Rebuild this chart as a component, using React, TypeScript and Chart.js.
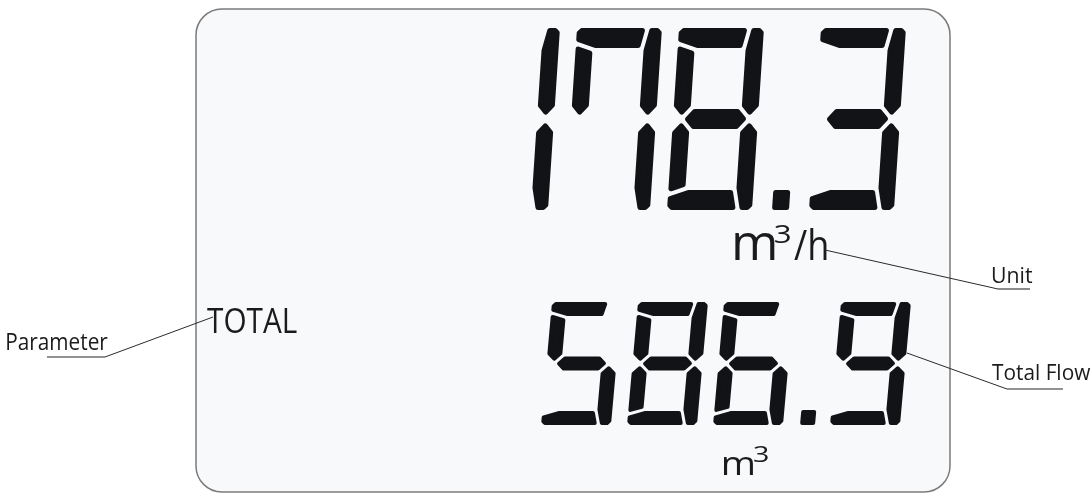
import React, { useEffect, useRef } from "react";
import { Chart, registerables } from "chart.js";
Chart.register(...registerables);

// ---- content ----
const readings = ["178.3", "586.9"];
const unitMain = ["m", "m"];
const unitPower = ["3", "3"];
const unitSuffix = ["/h", ""];
const parameterLabel = "TOTAL";
const calloutLabels = ["Unit", "Parameter", "Total Flow"];

// LCD segment map (this display draws 7 with the f segment)
const SEGMENTS: Record<string, string> = {
  "0": "abcdef", "1": "bc", "2": "abdeg", "3": "abcdg", "4": "bcfg",
  "5": "acdfg", "6": "acdefg", "7": "abcf", "8": "abcdefg", "9": "abcdfg",
};

// ---- layout / style ----
const VIEW_W = 1092;
const VIEW_H = 493;
const rowStyle = [
  { x0: 463, top: 28, H: 182, W: 85, Th: 20, Tv: 17, pitch: 102, dotExtra: 40, dotOffset: 3, dotW: 17, dotH: 20, slant: 12, gap: 4, r: 2.5, ch: 5 },
  { x0: 541, top: 302, H: 123, W: 70, Th: 14, Tv: 15, pitch: 86, dotExtra: 31, dotOffset: 1, dotW: 15, dotH: 15, slant: 11, gap: 3, r: 2, ch: 4 },
];
const CUT_A = 0.7;  // left corner cut (owned by horizontal segment)
const CUT_B = 0.75; // right corner cut (owned by vertical segment)
const unitStyle = [
  { m: [735, 775, 260, 50], p: [775, 790, 243, 25], s: [794, 827, 260, 42] },
  { m: [723, 753, 475, 33], p: [753, 768, 462, 21], s: [0, 0, 0, 0] },
];
const box = { x: 196, y: 9, w: 754, h: 483, r: 26 };
const paramText = { left: 207, right: 297, base: 333, size: 35 };
const calloutText = [
  { left: 992, right: 1032, base: 283, size: 21 },
  { left: 7, right: 108, base: 350, size: 24 },
  { left: 992, right: 1091, base: 380, size: 21 },
];
const calloutLines = [
  { from: [825, 250], to: [998, 289], end: 1030 },
  { from: [213, 317], to: [105, 357], end: 47 },
  { from: [907, 353], to: [1007, 389], end: 1063 },
];
const FONT = "'Open Sans', 'Noto Sans', sans-serif";
const INK = "#121316";
const TEXT = "#1b1b1b";

type P = [number, number];

function segPolys(W: number, H: number, Th: number, Tv: number, ch: number): Record<string, P[]> {
  const m = H / 2;
  const aL = CUT_A * Th;
  const bR = CUT_B * Tv;
  return {
    a: [[ch, 0], [W - bR, 0], [W - Tv, Th], [Tv, Th], [0, aL], [0, ch]],
    b: [[W - bR, 0], [W - ch, 0], [W, ch], [W, m - Th / 2], [W - Tv / 2, m], [W - Tv, m - Th / 2], [W - Tv, Th]],
    c: [[W - Tv / 2, m], [W, m + Th / 2], [W, H - ch], [W - ch, H], [W - bR, H], [W - Tv, H - Th], [W - Tv, m + Th / 2]],
    d: [[0, H - aL], [Tv, H - Th], [W - Tv, H - Th], [W - bR, H], [ch, H], [0, H - ch]],
    e: [[0, m + Th / 2], [Tv / 2, m], [Tv, m + Th / 2], [Tv, H - Th], [0, H - aL]],
    f: [[0, aL], [Tv, Th], [Tv, m - Th / 2], [Tv / 2, m], [0, m - Th / 2]],
    g: [[Tv / 2, m], [Tv, m - Th / 2], [W - Tv, m - Th / 2], [W - Tv / 2, m], [W - Tv, m + Th / 2], [Tv, m + Th / 2]],
  };
}

function inset(pts: P[], d: number): P[] {
  const n = pts.length;
  let A = 0;
  for (let i = 0; i < n; i++) {
    const [x1, y1] = pts[i];
    const [x2, y2] = pts[(i + 1) % n];
    A += x1 * y2 - x2 * y1;
  }
  const s = A > 0 ? 1 : -1;
  const lines: { p: P; dir: P }[] = [];
  for (let i = 0; i < n; i++) {
    const [x1, y1] = pts[i];
    const [x2, y2] = pts[(i + 1) % n];
    const dx = x2 - x1, dy = y2 - y1;
    const len = Math.hypot(dx, dy) || 1;
    const nx = (s * -dy) / len, ny = (s * dx) / len;
    lines.push({ p: [x1 + nx * d, y1 + ny * d], dir: [dx, dy] });
  }
  const out: P[] = [];
  for (let i = 0; i < n; i++) {
    const L1 = lines[(i - 1 + n) % n];
    const L2 = lines[i];
    const cr = L1.dir[0] * L2.dir[1] - L1.dir[1] * L2.dir[0];
    if (Math.abs(cr) < 1e-9) { out.push(L2.p); continue; }
    const qx = L2.p[0] - L1.p[0], qy = L2.p[1] - L1.p[1];
    const t = (qx * L2.dir[1] - qy * L2.dir[0]) / cr;
    out.push([L1.p[0] + L1.dir[0] * t, L1.p[1] + L1.dir[1] * t]);
  }
  return out;
}

function fillPoly(ctx: CanvasRenderingContext2D, pts: P[], r: number, color: string) {
  ctx.beginPath();
  pts.forEach(([x, y], i) => (i ? ctx.lineTo(x, y) : ctx.moveTo(x, y)));
  ctx.closePath();
  ctx.fillStyle = color;
  ctx.fill();
  if (r > 0) {
    ctx.strokeStyle = color;
    ctx.lineWidth = 2 * r;
    ctx.lineJoin = "round";
    ctx.stroke();
  }
}

function drawFit(ctx: CanvasRenderingContext2D, text: string, size: number, left: number, right: number, base: number) {
  if (!text) return;
  ctx.save();
  ctx.font = `${size}px ${FONT}`;
  const m = ctx.measureText(text);
  const ink = m.actualBoundingBoxLeft + m.actualBoundingBoxRight;
  const sx = ink > 0 ? (right - left) / ink : 1;
  ctx.translate(left, base);
  ctx.scale(sx, 1);
  ctx.fillStyle = TEXT;
  ctx.textAlign = "left";
  ctx.textBaseline = "alphabetic";
  ctx.fillText(text, m.actualBoundingBoxLeft, 0);
  ctx.restore();
}

const lcdPlugin = {
  id: "lcd",
  afterDraw(chart: any) {
    const ctx: CanvasRenderingContext2D = chart.ctx;
    const xs = chart.scales.x, ys = chart.scales.y;
    const X = (v: number) => xs.getPixelForValue(v);
    const Y = (v: number) => ys.getPixelForValue(v);
    ctx.save();

    // display panel
    ctx.beginPath();
    (ctx as any).roundRect(X(box.x), Y(box.y), X(box.x + box.w) - X(box.x), Y(box.y + box.h) - Y(box.y), box.r);
    ctx.fillStyle = "#f8f9fb";
    ctx.fill();
    ctx.strokeStyle = "#7b7b7b";
    ctx.lineWidth = 1.5;
    ctx.stroke();

    // seven-segment readings
    readings.forEach((str, ri) => {
      const st = rowStyle[ri];
      const k = st.slant / st.H;
      const g = st.gap;
      const polys = segPolys(st.W + g, st.H + g, st.Th + g, st.Tv + g, st.ch);
      let cx = st.x0;
      const tf = (ox: number, u: number, v: number): P => {
        const uu = u - g / 2, vv = v - g / 2;
        return [X(ox + uu + (st.H - vv) * k), Y(st.top + vv)];
      };
      for (const ch of str) {
        if (ch === ".") {
          const dx = cx + st.dotOffset;
          const dp: P[] = [
            [dx, st.H - st.dotH], [dx + st.dotW, st.H - st.dotH], [dx + st.dotW, st.H], [dx, st.H],
          ].map(([u, v]) => [X(u + (st.H - v) * k), Y(st.top + v)] as P);
          fillPoly(ctx, inset(dp, st.r), st.r, INK);
          cx += st.dotExtra;
          continue;
        }
        const segs = SEGMENTS[ch] || "";
        for (const s of segs) {
          const pts = polys[s].map(([u, v]) => tf(cx, u, v));
          fillPoly(ctx, inset(pts, g / 2 + st.r), st.r, INK);
        }
        cx += st.pitch;
      }
    });

    // units
    unitStyle.forEach((u, i) => {
      drawFit(ctx, unitMain[i], u.m[3], X(u.m[0]), X(u.m[1]), Y(u.m[2]));
      drawFit(ctx, unitPower[i], u.p[3], X(u.p[0]), X(u.p[1]), Y(u.p[2]));
      drawFit(ctx, unitSuffix[i], u.s[3], X(u.s[0]), X(u.s[1]), Y(u.s[2]));
    });

    // parameter label
    drawFit(ctx, parameterLabel, paramText.size, X(paramText.left), X(paramText.right), Y(paramText.base));

    // callouts
    calloutLabels.forEach((label, i) => {
      const t = calloutText[i];
      drawFit(ctx, label, t.size, X(t.left), X(t.right), Y(t.base));
      const l = calloutLines[i];
      ctx.beginPath();
      ctx.moveTo(X(l.from[0]), Y(l.from[1]));
      ctx.lineTo(X(l.to[0]), Y(l.to[1]));
      ctx.strokeStyle = "#2a2a2a";
      ctx.lineWidth = 1;
      ctx.stroke();
      ctx.beginPath();
      ctx.moveTo(X(l.to[0]), Y(l.to[1]));
      ctx.lineTo(X(l.end), Y(l.to[1]));
      ctx.strokeStyle = "#6e6e6e";
      ctx.lineWidth = 1.6;
      ctx.stroke();
    });

    ctx.restore();
  },
};

export default function App() {
  const ref = useRef<HTMLCanvasElement | null>(null);
  useEffect(() => {
    if (!ref.current) return;
    const chart = new Chart(ref.current, {
      type: "scatter",
      data: { datasets: [] },
      options: {
        animation: false,
        responsive: false,
        devicePixelRatio: 1,
        layout: { padding: 0 },
        events: [],
        plugins: { legend: { display: false }, tooltip: { enabled: false } },
        scales: {
          x: { type: "linear", min: 0, max: VIEW_W, display: false },
          y: { type: "linear", min: 0, max: VIEW_H, reverse: true, display: false },
        },
      },
      plugins: [lcdPlugin],
    });
    return () => chart.destroy();
  }, []);
  return (
    <div style={{ position: "absolute", left: 0, top: 0, width: VIEW_W, height: VIEW_H, background: "#ffffff" }}>
      <canvas ref={ref} width={VIEW_W} height={VIEW_H} style={{ display: "block" }} />
    </div>
  );
}
